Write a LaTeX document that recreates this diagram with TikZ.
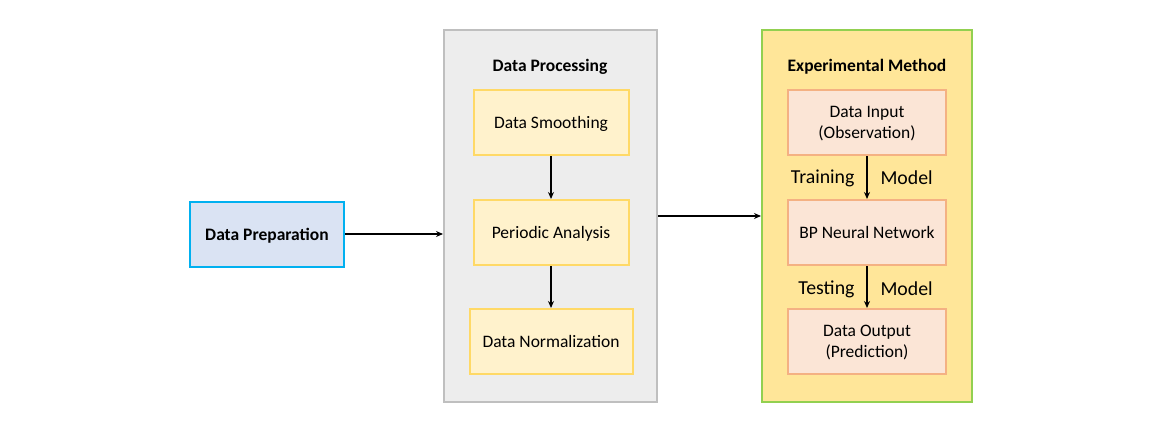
\documentclass[tikz,border=0pt]{standalone}
\usepackage{fontspec}
\setmainfont{Carlito}
\usetikzlibrary{arrows.meta}
\definecolor{prepfill}{HTML}{DAE3F3}
\definecolor{prepline}{HTML}{00B0F0}
\definecolor{grayfill}{HTML}{EDEDED}
\definecolor{grayline}{HTML}{BFBFBF}
\definecolor{yfill}{HTML}{FFF2CC}
\definecolor{yline}{HTML}{FFD966}
\definecolor{expfill}{HTML}{FFE699}
\definecolor{expline}{HTML}{92D050}
\definecolor{ofill}{HTML}{FBE5D6}
\definecolor{oline}{HTML}{F4B183}
\tikzset{
  box/.style={draw, line width=2pt, minimum width=#1, minimum height=65pt, inner sep=0pt, text depth=0pt, align=center, font=\fontsize{17.5}{20.5}\selectfont},
  box/.default=155pt,
  ybox/.style={box=#1, fill=yfill, draw=yline},
  ybox/.default=155pt,
  obox/.style={box=158pt, fill=ofill, draw=oline},
  panel/.style={draw, line width=2pt, minimum height=372pt, inner sep=0pt},
  title/.style={font=\fontsize{17.5}{20}\selectfont\bfseries},
  lbl/.style={font=\fontsize{19.8}{23}\selectfont},
  arr/.style={-{Stealth[length=7pt,width=6pt]}, line width=2pt, black}
}
\begin{document}
\begin{tikzpicture}[x=1pt,y=-1pt]
\useasboundingbox (0,0) rectangle (1175,426);
\node[box=154pt, fill=prepfill, draw=prepline, font=\fontsize{17.5}{20}\selectfont\bfseries] (prep) at (267,234) {Data Preparation};
\node[panel, minimum width=213pt, fill=grayfill, draw=grayline] (proc) at (550.5,216) {};
\node[panel, minimum width=210pt, fill=expfill, draw=expline] (exp) at (867,216) {};
\node[title] (proct) at (550,67) {Data Processing};
\node[title] (expt) at (867,67) {Experimental Method};
\node[ybox] (smooth) at (551,122.5) {Data Smoothing};
\node[ybox] (period) at (551,232.5) {Periodic Analysis};
\node[ybox=163pt] (norm) at (551,341.5) {Data Normalization};
\node[obox] (input) at (867,122.5) {Data Input\\(Observation)};
\node[obox] (bp) at (867,232.5) {BP Neural Network};
\node[obox] (output) at (867,341.5) {Data Output\\(Prediction)};
\draw[arr] (prep.east) -- (proc.west |- prep.east);
\draw[arr] (proc.east |- exp.west) -- (exp.west);
\draw[arr] (smooth) -- (period);
\draw[arr] (period) -- (norm);
\draw[arr] (input) -- (bp);
\draw[arr] (bp) -- (output);
\node[lbl, anchor=east] (train) at (858,178) {Training};
\node[lbl, anchor=west] (m1) at (877,178) {Model};
\node[lbl, anchor=east] (test) at (858,289) {Testing};
\node[lbl, anchor=west] (m2) at (877,289) {Model};
\end{tikzpicture}
\end{document}
